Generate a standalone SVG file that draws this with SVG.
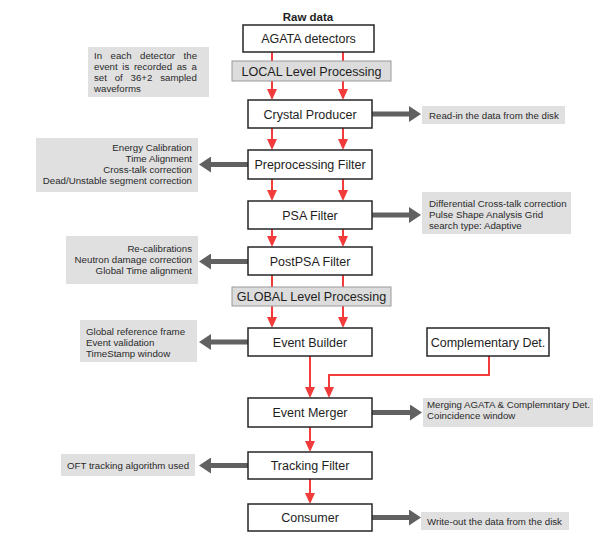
<svg xmlns="http://www.w3.org/2000/svg" width="594" height="534" viewBox="0 0 594 534">
<style>
.node{fill:#fff;stroke:#262626;stroke-width:1.5}
.band{fill:#dcdcdc;stroke:#9a9a9a;stroke-width:1}
.note{fill:#e0e0e0}
.nt{font-family:"Liberation Sans",Arial,sans-serif;font-size:12.5px;fill:#1e1e1e;text-anchor:middle}
.bt{font-family:"Liberation Sans",Arial,sans-serif;font-size:12.6px;fill:#1e1e1e;text-anchor:middle}
.st{font-family:"Liberation Sans",Arial,sans-serif;font-size:9.7px;fill:#2a2a2a}
.r{text-anchor:end}
.red{fill:none;stroke:#f23b3b;stroke-width:2;marker-end:url(#rh)}
.gray{fill:none;stroke:#616161;stroke-width:5;marker-end:url(#gh)}
</style>
<defs>
<marker id="rh" viewBox="0 0 11 10" refX="0" refY="5" markerWidth="11" markerHeight="10" markerUnits="userSpaceOnUse" orient="auto"><path d="M0,0 L11,5 L0,10 z" fill="#f23b3b"/></marker>
<marker id="gh" viewBox="0 0 12 16" refX="0" refY="8" markerWidth="12" markerHeight="16" markerUnits="userSpaceOnUse" orient="auto"><path d="M0,0 L12,8 L0,16 z" fill="#616161"/></marker>
</defs>
<rect width="594" height="534" fill="#fff"/>

<g id="connectors">
<path class="red" d="M272,52 V89"/><path class="red" d="M343,52 V89"/>
<path class="red" d="M272,128 V139"/><path class="red" d="M343,128 V139"/>
<path class="red" d="M272,179 V190"/><path class="red" d="M343,179 V190"/>
<path class="red" d="M272,229 V236"/><path class="red" d="M343,229 V236"/>
<path class="red" d="M272,275 V317"/><path class="red" d="M343,275 V317"/>
<path class="red" d="M310,356 V387"/>
<path class="red" d="M489,356 V375 H329 V387"/>
<path class="red" d="M310,427 V441"/>
<path class="red" d="M310,479 V493"/>
<path class="gray" d="M372,114 H409"/>
<path class="gray" d="M248,164.5 H211"/>
<path class="gray" d="M372,215 H409"/>
<path class="gray" d="M248,261.5 H211"/>
<path class="gray" d="M248,342 H211"/>
<path class="gray" d="M372,412.5 H410"/>
<path class="gray" d="M248,465.5 H211"/>
<path class="gray" d="M372,517.5 H409"/>
</g>

<text x="308" y="21" font-family="'Liberation Sans',Arial,sans-serif" font-size="11.5" font-weight="bold" fill="#1e1e1e" text-anchor="middle">Raw data</text>

<g id="agata"><rect class="node" x="243" y="25" width="131" height="27"/><text class="nt" x="308.5" y="43" font-size="13.4">AGATA detectors</text></g>
<g id="local"><rect class="band" x="232" y="61" width="159" height="20"/><text class="bt" x="311.5" y="75.5">LOCAL Level Processing</text></g>
<g id="crystal"><rect class="node" x="248" y="100" width="124" height="28"/><text class="nt" x="310" y="118.5">Crystal Producer</text></g>
<g id="preproc"><rect class="node" x="248" y="150" width="124" height="29"/><text class="nt" x="310" y="169">Preprocessing Filter</text></g>
<g id="psa"><rect class="node" x="248" y="201" width="124" height="28"/><text class="nt" x="310" y="219.5">PSA Filter</text></g>
<g id="postpsa"><rect class="node" x="248" y="247" width="124" height="28"/><text class="nt" x="310" y="265.5">PostPSA Filter</text></g>
<g id="global"><rect class="band" x="232" y="287" width="159" height="19"/><text class="bt" x="311.5" y="301">GLOBAL Level Processing</text></g>
<g id="eventbuilder"><rect class="node" x="248" y="328" width="124" height="28"/><text class="nt" x="310" y="346.5">Event Builder</text></g>
<g id="complementary"><rect class="node" x="427" y="328" width="122" height="28"/><text class="nt" x="488" y="346.5">Complementary Det.</text></g>
<g id="eventmerger"><rect class="node" x="248" y="398" width="124" height="29"/><text class="nt" x="310" y="417">Event Merger</text></g>
<g id="tracking"><rect class="node" x="248" y="452" width="124" height="27"/><text class="nt" x="310" y="470">Tracking Filter</text></g>
<g id="consumer"><rect class="node" x="248" y="504" width="124" height="27"/><text class="nt" x="310" y="522">Consumer</text></g>

<g id="note-waveforms"><rect class="note" x="88" y="47" width="121" height="50"/>
<text class="st" x="94" y="59" word-spacing="5.8">In each detector the</text>
<text class="st" x="94" y="70" word-spacing="1.9">event is recorded as a</text>
<text class="st" x="94" y="81" word-spacing="5.1">set of 36+2 sampled</text>
<text class="st" x="94" y="92">waveforms</text></g>

<g id="note-preproc"><rect class="note" x="36" y="138" width="162" height="54"/>
<text class="st r" x="192" y="151">Energy Calibration</text>
<text class="st r" x="192" y="162">Time Alignment</text>
<text class="st r" x="192" y="173">Cross-talk correction</text>
<text class="st r" x="192" y="184">Dead/Unstable segment correction</text></g>

<g id="note-postpsa"><rect class="note" x="66" y="236" width="132" height="48"/>
<text class="st r" x="192" y="251.5">Re-calibrations</text>
<text class="st r" x="192" y="262.5">Neutron damage correction</text>
<text class="st r" x="192" y="273.5">Global Time alignment</text></g>

<g id="note-builder"><rect class="note" x="80" y="320" width="117" height="42"/>
<text class="st" x="86" y="335">Global reference frame</text>
<text class="st" x="86" y="346">Event validation</text>
<text class="st" x="86" y="357">TimeStamp window</text></g>

<g id="note-tracking"><rect class="note" x="61" y="454" width="134" height="22"/>
<text class="st" x="67" y="468.5">OFT tracking algorithm used</text></g>

<g id="note-readin"><rect class="note" x="422" y="106" width="143" height="18"/>
<text class="st" x="429" y="118.5">Read-in the data from the disk</text></g>

<g id="note-psa"><rect class="note" x="422" y="192" width="149" height="42"/>
<text class="st" x="429" y="206.5">Differential Cross-talk correction</text>
<text class="st" x="429" y="217.5">Pulse Shape Analysis Grid</text>
<text class="st" x="429" y="228.5">search type: Adaptive</text></g>

<g id="note-merger"><rect class="note" x="423" y="398" width="170" height="29"/>
<text class="st" x="427" y="407.5" font-size="9.4" textLength="163" lengthAdjust="spacingAndGlyphs">Merging AGATA &amp; Complemntary Det.</text>
<text class="st" x="427" y="418.5">Coincidence window</text></g>

<g id="note-writeout"><rect class="note" x="421" y="512" width="148" height="18"/>
<text class="st" x="427" y="524.5">Write-out the data from the disk</text></g>
</svg>
